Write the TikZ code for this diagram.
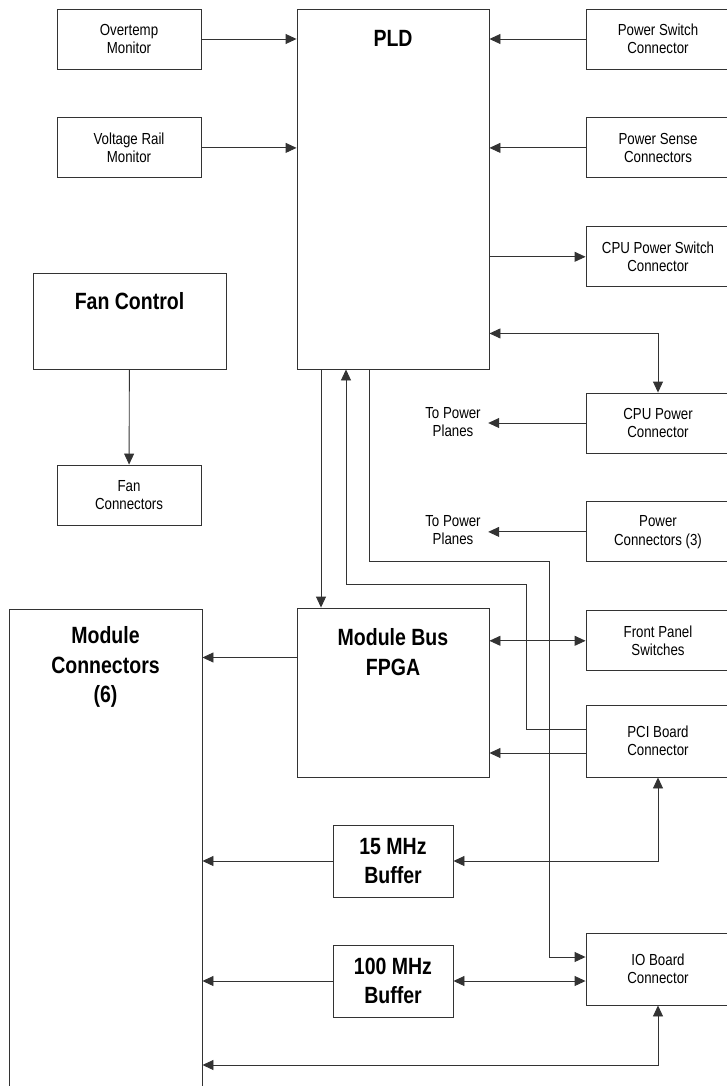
\documentclass[tikz,border=0pt]{standalone}
\usepackage{fontspec}
\setmainfont{Liberation Sans}[FakeStretch=0.83]
\usetikzlibrary{arrows.meta, positioning}

\begin{document}
\begin{tikzpicture}[
  x=1pt, y=-1pt,
  node distance=48pt and 60pt,
  block/.style={rectangle, draw=black!80, line width=0.9pt, minimum width=144pt,
                minimum height=60pt, inner sep=2pt, align=center,
                font=\fontsize{16}{18.5}\selectfont},
  bigblock/.style={rectangle, draw=black!80, line width=0.9pt},
  title/.style={font=\fontsize{23.5}{29.5}\selectfont\bfseries, align=center},
  plain/.style={font=\fontsize{16}{18.5}\selectfont, align=center},
  arrow/.style={-{Triangle[length=11pt, width=10pt]}, line width=0.9pt, black!80},
  twoway/.style={{Triangle[length=11pt, width=10pt]}-{Triangle[length=11pt, width=10pt]},
                 line width=0.9pt, black!80},
]
  \useasboundingbox (0,0) rectangle (726,1086);

  % left column
  \node[block] (over) at (129,39) {Overtemp\\Monitor};
  \node[block, below=of over] (volt) {Voltage Rail\\Monitor};
  \node[bigblock, minimum width=193pt, minimum height=96pt] (fanctl) at (129.5,321) {};
  \node[title] (fanname) at (129.5,301) {Fan Control};
  \node[block] (fanconn) at (129,495) {Fan\\Connectors};

  % PLD
  \node[bigblock, minimum width=192pt, minimum height=360pt] (pld) at (393,189) {};
  \node[title] (pldname) at (393,38) {PLD};

  % right column
  \node[block] (pswitch) at (658,39) {Power Switch\\Connector};
  \node[block, below=of pswitch] (psense) {Power Sense\\Connectors};
  \node[block, below=of psense] (cpusw) {CPU Power Switch\\Connector};
  \node[block] (cpupwr) at (658,423) {CPU Power\\Connector};
  \node[block, below=of cpupwr] (pconn) {Power\\Connectors (3)};
  \node[block, below=of pconn] (front) {Front Panel\\Switches};
  \node[block, minimum height=72pt] (pci) at (658,741) {PCI Board\\Connector};
  \node[block, minimum height=72pt] (io) at (658,969) {IO Board\\Connector};

  \node[plain] (planes1) at (453,422) {To Power\\Planes};
  \node[plain] (planes2) at (453,530) {To Power\\Planes};

  % lower middle
  \node[bigblock, minimum width=192pt, minimum height=169pt] (bus) at (393,692.5) {};
  \node[title] (busname) at (393,652) {Module Bus\\FPGA};
  \node[bigblock, minimum width=193pt, minimum height=500pt] (modules) at (105.5,859) {};
  \node[title] (modname) at (105.5,667) {Module\\Connectors\\(6)};
  \node[block, title, minimum width=120pt, minimum height=72pt] (buf15) at (393,861) {15 MHz\\Buffer};
  \node[block, title, minimum width=120pt, minimum height=72pt] (buf100) at (393,981) {100 MHz\\Buffer};

  % helper points
  \coordinate (pldtap) at ([yshift=36pt]pld.south east);
  \coordinate (down1) at ([xshift=-72pt]pld.south);
  \coordinate (up1) at ([xshift=-47pt]pld.south);
  \coordinate (down2) at ([xshift=-24pt]pld.south);
  \coordinate (pcibend) at (526,584);
  \coordinate (iobend) at (549,561);
  \coordinate (pciout) at ([yshift=12pt]pci.west);
  \coordinate (pciin) at ([yshift=-12pt]pci.west);
  \coordinate (ioin) at ([yshift=12pt]io.west);
  \coordinate (busout) at ([yshift=35pt]bus.west);
  \coordinate (bottomrun) at (0,1065);

  % connectors
  \draw[arrow] (over) -- (over -| pld.west);
  \draw[arrow] (volt) -- (volt -| pld.west);
  \draw[arrow] (pswitch) -- (pswitch -| pld.east);
  \draw[arrow] (psense) -- (psense -| pld.east);
  \draw[arrow] (cpusw -| pld.east) -- (cpusw);
  \draw[twoway] (pldtap) -| (cpupwr);
  \draw[arrow, shorten >=4pt] (cpupwr) -- (cpupwr -| planes1.east);
  \draw[arrow, shorten >=4pt] (pconn) -- (pconn -| planes2.east);
  \draw[arrow] (fanctl) -- (fanconn);

  \draw[arrow] (down1) -- (down1 |- bus.north);
  \draw[arrow] (pciout) -| (pcibend) -| (up1);
  \draw[arrow] (down2) |- (iobend) |- (ioin);

  \draw[arrow] (busout) -- (busout -| modules.east);
  \draw[twoway] (front) -- (front -| bus.east);
  \draw[arrow] (pciin) -- (pciin -| bus.east);
  \draw[arrow] (buf15) -- (buf15 -| modules.east);
  \draw[twoway] (buf15) -| (pci);
  \draw[arrow] (buf100) -- (buf100 -| modules.east);
  \draw[twoway] (buf100) -- (buf100 -| io.west);
  \draw[twoway] (io) |- (bottomrun -| modules.east);
\end{tikzpicture}
\end{document}
